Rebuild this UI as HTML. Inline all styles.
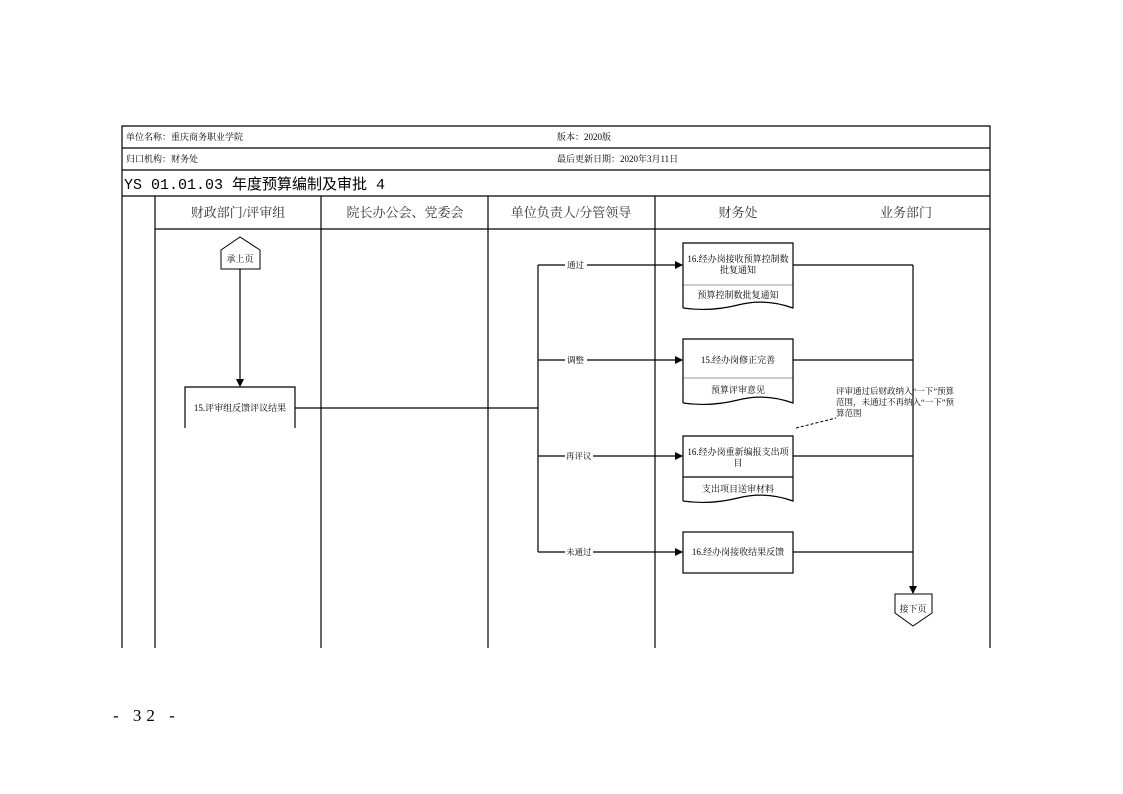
<!DOCTYPE html>
<html><head><meta charset="utf-8"><style>
body{margin:0;background:#fff;width:1123px;height:794px;overflow:hidden;font-family:"Liberation Serif","Noto Serif CJK SC","Noto Sans CJK SC",serif;color:#111}
svg{position:absolute;left:0;top:0}
</style></head><body>
<svg width="1123" height="794" viewBox="0 0 1123 794">
<defs><marker id="a" markerWidth="8" markerHeight="8" refX="7" refY="4" orient="auto" markerUnits="userSpaceOnUse"><path d="M0,0 L8,4 L0,8 z" fill="#000"/></marker></defs>
<g stroke="#000" stroke-width="1.2" fill="none">
<path d="M122,648 V126 H990 V648"/>
<line x1="122" y1="148" x2="990" y2="148"/>
<line x1="122" y1="170" x2="990" y2="170"/>
<line x1="122" y1="196" x2="990" y2="196"/>
<line x1="155" y1="229" x2="990" y2="229"/>
<line x1="155" y1="196" x2="155" y2="648"/>
<line x1="321" y1="196" x2="321" y2="648"/>
<line x1="488" y1="196" x2="488" y2="648"/>
<line x1="655" y1="196" x2="655" y2="648"/>
<path d="M221,269 V250 L240,237 L260,250 V269 Z" stroke-width="1"/>
<line x1="240" y1="269" x2="240" y2="386" marker-end="url(#a)"/>
<path d="M185,428 V387 H295 V428"/>
<line x1="295" y1="408" x2="538" y2="408"/>
<line x1="538" y1="265" x2="538" y2="552"/>
<line x1="538" y1="265" x2="682" y2="265" marker-end="url(#a)"/>
<line x1="538" y1="360" x2="682" y2="360" marker-end="url(#a)"/>
<line x1="538" y1="456" x2="682" y2="456" marker-end="url(#a)"/>
<line x1="538" y1="552" x2="682" y2="552" marker-end="url(#a)"/>
<path d="M683,308 V243 H793 V308 Q765,298 738,305 Q710,312 683,308"/>
<line x1="683" y1="285" x2="793" y2="285" stroke-width="0.4"/>
<path d="M683,403 V339 H793 V403 Q765,393 738,400 Q710,407 683,403"/>
<line x1="683" y1="378" x2="793" y2="378" stroke-width="0.4"/>
<path d="M683,501 V436 H793 V501 Q765,491 738,498 Q710,505 683,501"/>
<line x1="683" y1="477" x2="793" y2="477"/>
<rect x="683" y="532" width="110" height="41"/>
<line x1="793" y1="265" x2="913" y2="265"/>
<line x1="793" y1="360" x2="913" y2="360"/>
<line x1="793" y1="456" x2="913" y2="456"/>
<line x1="793" y1="552" x2="913" y2="552"/>
<line x1="913" y1="265" x2="913" y2="593" marker-end="url(#a)"/>
<path d="M895,594 H932 V613 L913,626 L895,613 Z" stroke-width="1"/>
<line x1="796" y1="428" x2="836" y2="418" stroke-dasharray="3,2" stroke-width="1"/>
</g>
<g font-size="9">
<text x="126" y="140">单位名称：重庆商务职业学院</text>
<text x="557" y="140">版本：2020版</text>
<text x="126" y="162">归口机构：财务处</text>
<text x="557" y="162">最后更新日期：2020年3月11日</text>
</g>
<text x="124" y="189" font-size="15" font-family="Liberation Mono,Noto Sans CJK SC,monospace">YS 01.01.03 年度预算编制及审批 4</text>
<g font-size="13" text-anchor="middle" fill="#333">
<text x="238" y="217">财政部门/评审组</text>
<text x="405" y="217">院长办公会、党委会</text>
<text x="571" y="217">单位负责人/分管领导</text>
<text x="738" y="217">财务处</text>
<text x="906" y="217">业务部门</text>
</g>
<g font-size="9" text-anchor="middle">
<text x="240" y="262">承上页</text>
<text x="240" y="411">15.评审组反馈评议结果</text>
<text x="738" y="262">16.经办岗接收预算控制数</text>
<text x="738" y="273">批复通知</text>
<text x="738" y="298">预算控制数批复通知</text>
<text x="738" y="363">15.经办岗修正完善</text>
<text x="738" y="393">预算评审意见</text>
<text x="738" y="455">16.经办岗重新编报支出项</text>
<text x="738" y="466">目</text>
<text x="738" y="492">支出项目送审材料</text>
<text x="738" y="555">16.经办岗接收结果反馈</text>
<text x="913" y="612">接下页</text>
</g>
<g font-size="8.5">
<rect x="565" y="259" width="22" height="11" fill="#fff"/><text x="567" y="268">通过</text>
<rect x="565" y="354" width="22" height="11" fill="#fff"/><text x="567" y="363">调整</text>
<rect x="565" y="450" width="28" height="11" fill="#fff"/><text x="566" y="459">再评议</text>
<rect x="565" y="546" width="28" height="11" fill="#fff"/><text x="566" y="555">未通过</text>
<text x="836" y="394">评审通过后财政纳入“一下”预算</text>
<text x="836" y="405">范围，未通过不再纳入“一下”预</text>
<text x="836" y="416">算范围</text>
</g>
<text x="113" y="721" font-size="17" letter-spacing="5">- 32 -</text>
</svg>
</body></html>
